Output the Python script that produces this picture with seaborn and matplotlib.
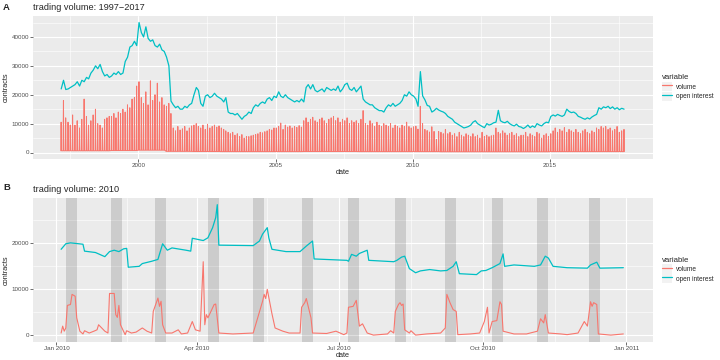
"""
Futures trading volume and open interest, 1997-2017 and a 2010 close-up.
Two stacked panels in a ggplot-like look; saved as out.png (720x360).
"""

import numpy as np
import pandas as pd
import matplotlib
matplotlib.use("Agg")
import matplotlib.pyplot as plt
import matplotlib.dates as mdates
from matplotlib.lines import Line2D
from matplotlib.patches import Rectangle
import seaborn as sns

sns.set_theme(style="darkgrid")
plt.rcParams["font.family"] = ["Liberation Sans", "DejaVu Sans"]

RED = "#F8766D"
TEAL = "#00BFC4"
PANEL_BG = "#EBEBEB"

# ---------------------------------------------------------------------------
# Panel A data: one value per month, Mar 1997 .. Sep 2017
# ---------------------------------------------------------------------------
oi_1997 = [22000, 25000, 21800, 22000, 22500, 23000, 23500, 24500, 23000, 25000]
oi_1998 = [24500, 26000, 25500, 27500, 28500, 30000, 29000, 30500, 28000, 26500, 27000, 26000]
oi_1999 = [26500, 27500, 27000, 28000, 27000, 27500, 31500, 33000, 36500, 37000, 38500, 37000]
oi_2000 = [45000, 41500, 40000, 43500, 39500, 38500, 39000, 37000, 36500, 37500, 35500, 35000]
oi_2001 = [33000, 30000, 17800, 16500, 15500, 16000, 15000, 15000, 16000, 15500, 16500, 17000]
oi_2002 = [20000, 22500, 21500, 17000, 16000, 19500, 20000, 19000, 19500, 20500, 19500, 19000]
oi_2003 = [18500, 17500, 19000, 14000, 13500, 13500, 13000, 13500, 12500, 11500, 12500, 13000]
oi_2004 = [14000, 13500, 15500, 16500, 16000, 17000, 17500, 17000, 18500, 19000, 18000, 19500]
oi_2005 = [19000, 21000, 19500, 19000, 20000, 19000, 18500, 18000, 17500, 18000, 17500, 18500]
oi_2006 = [17500, 22500, 23500, 22000, 23500, 21500, 21000, 21500, 22000, 21000, 22500, 22000]
oi_2007 = [21500, 22000, 21500, 23000, 21000, 22000, 23500, 24000, 22000, 21500, 22500, 21000]
oi_2008 = [22000, 23000, 18500, 17500, 17000, 16500, 16500, 15500, 15000, 14500, 14500, 14000]
oi_2009 = [15500, 16500, 16000, 17000, 16000, 16500, 17000, 18000, 20000, 19500, 21000, 20000]
oi_2010 = [19500, 18500, 16000, 28000, 19600, 18200, 16300, 16000, 14000, 14500, 15300, 14700]
oi_2011 = [14300, 14000, 13500, 12500, 12000, 11500, 10500, 10000, 9500, 9000, 8500, 8700]
oi_2012 = [9000, 9500, 10500, 11000, 10000, 9500, 9000, 8600, 10000, 9500, 9800, 10300]
oi_2013 = [10500, 14600, 11000, 10500, 10300, 10800, 10000, 9500, 9200, 9800, 9000, 8800]
oi_2014 = [8300, 8800, 9500, 8600, 9200, 8700, 10000, 9500, 9200, 10000, 10500, 10300]
oi_2015 = [12500, 13000, 12600, 13200, 12800, 12500, 13000, 15000, 14200, 13800, 14000, 13500]
oi_2016 = [12500, 12200, 11800, 11500, 12000, 11600, 12300, 12800, 13200, 15500, 15000, 15800]
oi_2017 = [15500, 16000, 15200, 15800, 15000, 15500, 14800, 15300, 15000]

# monthly roll-week peak of volume
vol_1997 = [10500, 18000, 12000, 10500, 9500, 13000, 9500, 11000, 8500, 11500]
vol_1998 = [18500, 12500, 9500, 11000, 13000, 15000, 10000, 9500, 8500, 11500, 12000, 12500]
vol_1999 = [12500, 13500, 12000, 14000, 13500, 15000, 14000, 16500, 15500, 18500, 19000, 23000]
vol_2000 = [24500, 19000, 17000, 21000, 16500, 24800, 18000, 20000, 24000, 17500, 19000, 16500]
vol_2001 = [16000, 17000, 13500, 8500, 7500, 9000, 7800, 8200, 9000, 7500, 8500, 9200]
vol_2002 = [9500, 10000, 9000, 8500, 9500, 8000, 9800, 8500, 9000, 9500, 8800, 9200]
vol_2003 = [8500, 8000, 7500, 7000, 6500, 7000, 6000, 6500, 5500, 6200, 5000, 5500]
vol_2004 = [5500, 5800, 6000, 6200, 6500, 7000, 6800, 7200, 7500, 8000, 7800, 8500]
vol_2005 = [8500, 9000, 10200, 8000, 9500, 8800, 9200, 8500, 9000, 8700, 9300, 8800]
vol_2006 = [11000, 12000, 10500, 11500, 12200, 11000, 10500, 11500, 12000, 11000, 10000, 11500]
vol_2007 = [12000, 12500, 11000, 12000, 10500, 11500, 11000, 12000, 10000, 11000, 10500, 11000]
vol_2008 = [10000, 11500, 14500, 10000, 9500, 11000, 10000, 9000, 10500, 9500, 9000, 10000]
vol_2009 = [9500, 9000, 10000, 8500, 9500, 9000, 8500, 9500, 9000, 10500, 9000, 8500]
vol_2010 = [8900, 9100, 8100, 16000, 10000, 8000, 7600, 7100, 8900, 7300, 4500, 7300]
vol_2011 = [7000, 6500, 8000, 6500, 7000, 6000, 6500, 5500, 7000, 6000, 5500, 6500]
vol_2012 = [6000, 5500, 6500, 5500, 6000, 5000, 7000, 5500, 6000, 5500, 5800, 6000]
vol_2013 = [8500, 7000, 6500, 7500, 6800, 6000, 6500, 7000, 6000, 6500, 5500, 6000]
vol_2014 = [6000, 7000, 5500, 6500, 6000, 5500, 7000, 6500, 5000, 6000, 6500, 5500]
vol_2015 = [6500, 7500, 8500, 7000, 8000, 7500, 8600, 7000, 8000, 7500, 7000, 8000]
vol_2016 = [7000, 6500, 7500, 8000, 7000, 6500, 7500, 7000, 8500, 8000, 9000, 8500]
vol_2017 = [9000, 8000, 8500, 7500, 8000, 9000, 7000, 7500, 8000]

# off-roll volume level, one per year 1997..2017
vol_base = [600, 600, 700, 800, 400, 350, 300, 300, 300, 350, 350,
            300, 300, 300, 250, 250, 250, 250, 300, 300, 300]

# ---------------------------------------------------------------------------
# Panel B data: 2010 close-up (turning points of the daily series)
# ---------------------------------------------------------------------------
oi_b_dates = [
    "01-04", "01-07", "01-10", "01-18", "01-19", "01-26", "02-01", "02-04",
    "02-07", "02-10", "02-13", "02-15", "02-16", "02-23", "02-25", "03-03",
    "03-07", "03-10", "03-13", "03-16", "03-25", "03-28", "03-29", "04-05",
    "04-08", "04-11", "04-13", "04-14", "04-15", "05-07", "05-11", "05-13",
    "05-16", "05-17", "05-19", "05-28", "06-06", "06-10", "06-14", "06-15",
    "07-06", "07-07", "07-09", "07-12", "07-14", "07-19", "07-20", "08-05",
    "08-07", "08-10", "08-12", "08-13", "08-15", "08-19", "08-22", "08-28",
    "09-04", "09-08", "09-12", "09-14", "09-16", "09-27", "09-30", "10-03",
    "10-07", "10-12", "10-14", "10-15", "10-21", "11-03", "11-07", "11-10",
    "11-12", "11-15", "11-24", "12-07", "12-09", "12-13", "12-15", "12-30",
]
oi_b_values = [
    18700, 19900, 20100, 19800, 18300, 18000, 17100, 18200,
    18500, 18200, 18800, 18900, 14800, 15000, 15600, 16100,
    16500, 19900, 18500, 19000, 18500, 18300, 21100, 20600,
    21200, 23400, 25600, 28400, 19600, 19500, 20500, 22000,
    23400, 21200, 18700, 18200, 18200, 19400, 20500, 16600,
    16300, 16100, 17600, 17200, 17800, 18500, 16300, 16000,
    16300, 17000, 17200, 16300, 14500, 13600, 14000, 14300,
    14000, 14100, 15000, 16000, 13400, 13200, 14000, 14100,
    14700, 15600, 17700, 15000, 15300, 15000, 15300, 17200,
    16800, 15000, 14700, 14600, 15300, 15900, 14600, 14700,
]

vol_b_dates = [
    "01-04", "01-05", "01-06", "01-07", "01-08", "01-10", "01-11", "01-13",
    "01-14", "01-16", "01-18", "01-19", "01-22", "01-25", "01-27", "01-28",
    "01-30", "02-01", "02-03", "02-04", "02-07", "02-08", "02-09", "02-10",
    "02-11", "02-13", "02-14", "02-15", "02-18", "02-21", "02-25", "02-28",
    "03-03", "03-04", "03-07", "03-08", "03-09", "03-10", "03-12", "03-16",
    "03-20", "03-22", "03-26", "03-29", "03-31", "04-03", "04-05", "04-06",
    "04-07", "04-08", "04-11", "04-12", "04-13", "04-15", "04-24", "05-07",
    "05-13", "05-14", "05-15", "05-16", "05-19", "05-21", "05-26", "05-30",
    "06-06", "06-07", "06-09", "06-10", "06-13", "06-14", "06-23", "06-29",
    "07-04", "07-06", "07-07", "07-10", "07-12", "07-13", "07-14", "07-16",
    "07-19", "07-23", "08-01", "08-03", "08-05", "08-06", "08-08", "08-09",
    "08-10", "08-11", "08-12", "08-15", "08-16", "08-19", "08-26", "09-04",
    "09-07", "09-08", "09-10", "09-12", "09-14", "09-15", "09-23", "09-29",
    "10-02", "10-04", "10-05", "10-07", "10-10", "10-12", "10-13", "10-14",
    "10-21", "10-29", "11-05", "11-07", "11-09", "11-10", "11-12", "11-20",
    "11-24", "12-01", "12-05", "12-07", "12-09", "12-10", "12-11", "12-13",
    "12-14", "12-22", "12-30",
]
vol_b_values = [
    500, 2000, 900, 1600, 6500, 6700, 8900, 8500,
    3800, 900, 300, 1000, 500, 900, 1200, 2300,
    1600, 900, 500, 9100, 9100, 4500, 3900, 6500,
    2300, 900, 150, 1000, 500, 700, 1600, 900,
    500, 5200, 8100, 6300, 7400, 2300, 500, 500,
    1200, 300, 500, 3000, 1200, 900, 16000, 2300,
    4500, 3800, 6000, 6700, 6800, 500, 300, 500,
    7400, 8900, 8000, 10000, 4700, 1600, 900, 500,
    500, 6100, 7100, 8000, 3800, 500, 400, 900,
    150, 500, 6100, 6300, 7600, 4800, 2000, 2500,
    500, 50, 300, 1000, 500, 5200, 6700, 7100,
    6500, 6800, 1200, 500, 1000, 50, 300, 500,
    1600, 8900, 7100, 5600, 5200, 150, 300, 500,
    3000, 6100, 500, 3000, 3200, 7300, 6700, 900,
    300, 300, 900, 3600, 2700, 4500, 500, 300,
    150, 500, 3000, 2000, 7300, 6300, 7100, 6700,
    300, 50, 300,
]

# roll windows shaded in panel B
roll_starts = ["01-07", "02-05", "03-05", "04-08", "05-07", "06-07",
               "07-07", "08-06", "09-07", "10-07", "11-05", "12-08"]
roll_ends = ["01-14", "02-12", "03-12", "04-15", "05-14", "06-14",
             "07-14", "08-13", "09-14", "10-14", "11-12", "12-15"]

# ---------------------------------------------------------------------------
# Long-form tables
# ---------------------------------------------------------------------------
oi_a = np.concatenate([oi_1997, oi_1998, oi_1999, oi_2000, oi_2001, oi_2002,
                       oi_2003, oi_2004, oi_2005, oi_2006, oi_2007, oi_2008,
                       oi_2009, oi_2010, oi_2011, oi_2012, oi_2013, oi_2014,
                       oi_2015, oi_2016, oi_2017])
vol_a = np.concatenate([vol_1997, vol_1998, vol_1999, vol_2000, vol_2001,
                        vol_2002, vol_2003, vol_2004, vol_2005, vol_2006,
                        vol_2007, vol_2008, vol_2009, vol_2010, vol_2011,
                        vol_2012, vol_2013, vol_2014, vol_2015, vol_2016,
                        vol_2017])
months = pd.date_range("1997-03-01", periods=len(oi_a), freq="MS")

oi_a_df = pd.DataFrame({"date": months + pd.Timedelta(days=10),
                        "contracts": oi_a, "variable": "open interest"})
vol_rows = []
for m, peak in zip(months, vol_a):
    base = vol_base[m.year - 1997]
    vol_rows.append((m + pd.Timedelta(days=4), base))
    vol_rows.append((m + pd.Timedelta(days=9), peak))
    vol_rows.append((m + pd.Timedelta(days=14), base))
vol_a_df = pd.DataFrame(vol_rows, columns=["date", "contracts"])
vol_a_df["variable"] = "volume"

oi_b_df = pd.DataFrame({"date": pd.to_datetime(["2010-" + d for d in oi_b_dates]),
                        "contracts": oi_b_values, "variable": "open interest"})
vol_b_df = pd.DataFrame({"date": pd.to_datetime(["2010-" + d for d in vol_b_dates]),
                         "contracts": vol_b_values, "variable": "volume"})

# ---------------------------------------------------------------------------
# Figure
# ---------------------------------------------------------------------------
W, H = 720, 360
fig = plt.figure(figsize=(7.2, 3.6), dpi=100)
fig.patch.set_facecolor("white")
ax_a = fig.add_axes([33 / W, 1 - 159 / H, 620 / W, 143 / H])
ax_b = fig.add_axes([33 / W, 1 - 342 / H, 620 / W, 144 / H])

TICK_FS = 4.5
LAB_FS = 5.3


def style_axis(ax, xlab_y):
    ax.set_facecolor(PANEL_BG)
    for s in ax.spines.values():
        s.set_visible(False)
    ax.grid(which="major", color="white", linewidth=0.8)
    ax.grid(which="minor", color="white", linewidth=0.4)
    ax.tick_params(which="major", length=2, width=0.5, color="#333333",
                   labelsize=TICK_FS, labelcolor="#4D4D4D", pad=0.9,
                   bottom=True, left=True)
    ax.tick_params(which="minor", length=0)
    ax.yaxis.set_major_locator(plt.MultipleLocator(10000))
    ax.yaxis.set_minor_locator(plt.MultipleLocator(5000))
    ax.set_xlabel("date", fontsize=LAB_FS, va="center")
    ax.set_ylabel("contracts", fontsize=LAB_FS, va="center")
    ax.xaxis.set_label_coords(0.5, xlab_y)
    ax.yaxis.set_label_coords(-0.0435, 0.5)


# Panel A
sns.lineplot(data=vol_a_df, x="date", y="contracts", color=RED, linewidth=0.7,
             estimator=None, legend=False, ax=ax_a)
sns.lineplot(data=oi_a_df, x="date", y="contracts", color=TEAL, linewidth=0.9,
             estimator=None, legend=False, ax=ax_a)
style_axis(ax_a, -0.097)
ax_a.set_xlim(pd.Timestamp("1996-03-01"), pd.Timestamp("2018-10-01"))
ax_a.set_ylim(-2250, 47250)
ax_a.xaxis.set_major_locator(mdates.YearLocator(5))
ax_a.xaxis.set_major_formatter(mdates.DateFormatter("%Y"))
ax_a.xaxis.set_minor_locator(plt.FixedLocator(mdates.date2num(pd.to_datetime(
    ["1997-07-02", "2002-07-02", "2007-07-02", "2012-07-02", "2017-07-02"]))))

# Panel B
for s, e in zip(roll_starts, roll_ends):
    ax_b.axvspan(pd.Timestamp("2010-" + s), pd.Timestamp("2010-" + e),
                 color="black", alpha=0.13, linewidth=0, zorder=1)
sns.lineplot(data=vol_b_df, x="date", y="contracts", color=RED, linewidth=0.8,
             estimator=None, legend=False, ax=ax_b)
sns.lineplot(data=oi_b_df, x="date", y="contracts", color=TEAL, linewidth=0.9,
             estimator=None, legend=False, ax=ax_b)
style_axis(ax_b, -0.097)
ax_b.set_xlim(pd.Timestamp("2009-12-17"), pd.Timestamp("2011-01-18"))
ax_b.set_ylim(-1450, 29850)
ax_b.xaxis.set_major_locator(mdates.MonthLocator(bymonth=[1, 4, 7, 10]))
ax_b.xaxis.set_major_formatter(mdates.DateFormatter("%b %Y"))
ax_b.xaxis.set_minor_locator(plt.FixedLocator(mdates.date2num(pd.to_datetime(
    ["2010-02-15", "2010-05-16", "2010-08-16", "2010-11-16"]))))

# legends
for ax in (ax_a, ax_b):
    handles = [
        (Rectangle((0, 0), 1, 1, facecolor="#F2F2F2", edgecolor="none"),
         Line2D([], [], color=RED, linewidth=0.9)),
        (Rectangle((0, 0), 1, 1, facecolor="#F2F2F2", edgecolor="none"),
         Line2D([], [], color=TEAL, linewidth=0.9)),
    ]
    ax.legend(handles, ["volume", "open interest"], title="variable",
              loc="center left", bbox_to_anchor=(1.014, 0.5), frameon=False,
              fontsize=4.7, title_fontsize=5.6, alignment="left",
              handlelength=1.6, handleheight=1.75, handletextpad=0.55,
              labelspacing=0.1, borderpad=0, borderaxespad=0)

# titles and panel letters
fig.text(33 / W, 1 - 7 / H, "trading volume: 1997\u22122017", fontsize=6.6,
         va="center", ha="left")
fig.text(3 / W, 1 - 7 / H, "A", fontsize=6.8, fontweight="bold",
         va="center", ha="left")
fig.text(33 / W, 1 - 189 / H, "trading volume: 2010", fontsize=6.6,
         va="center", ha="left")
fig.text(3 / W, 1 - 187 / H, "B", fontsize=6.8, fontweight="bold",
         va="center", ha="left")

fig.savefig("out.png", dpi=100, facecolor="white")
plt.close(fig)
